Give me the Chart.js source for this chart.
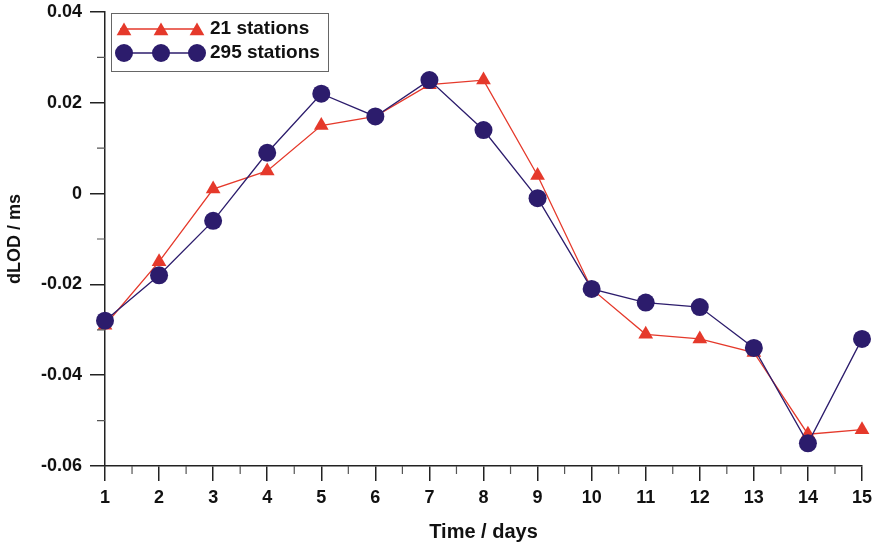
<!DOCTYPE html>
<html>
<head>
<meta charset="utf-8">
<script src="https://cdn.jsdelivr.net/npm/chart.js@4/dist/chart.umd.min.js"></script>
<style>
  html, body { margin: 0; padding: 0; background: #fff; }
  #wrap { width: 876px; height: 549px; }
</style>
</head>
<body>
<div id="wrap"><canvas id="chart"></canvas></div>
<script>
  // days 1..15
  const days = [1, 2, 3, 4, 5, 6, 7, 8, 9, 10, 11, 12, 13, 14, 15];
  const st21 = [-0.029, -0.015, 0.001, 0.005, 0.015, 0.017, 0.024, 0.025, 0.004, -0.021, -0.031, -0.032, -0.035, -0.053, -0.052];
  const st295 = [-0.028, -0.018, -0.006, 0.009, 0.022, 0.017, 0.025, 0.014, -0.001, -0.021, -0.024, -0.025, -0.034, -0.055, -0.032];
  const labels = ["21 stations", "295 stations"];

  const red = "#e5392b";
  const navy = "#2c1c6c";
  const font = "'Liberation Sans', Arial, sans-serif";

  // minor ticks + legend with three markers per line
  const extras = {
    id: "extras",
    afterDraw(chart) {
      const ctx = chart.ctx;
      const xs = chart.scales.x, ys = chart.scales.y;
      ctx.save();
      ctx.strokeStyle = "#555";
      ctx.lineWidth = 1.2;
      ctx.beginPath();
      for (let v = 1.5; v < 15; v += 1) {
        const px = xs.getPixelForValue(v);
        ctx.moveTo(px, xs.top);
        ctx.lineTo(px, xs.top + 8);
      }
      for (let v = -0.05; v < 0.04; v += 0.02) {
        const py = ys.getPixelForValue(v);
        ctx.moveTo(ys.right, py);
        ctx.lineTo(ys.right - 8, py);
      }
      ctx.stroke();

      // legend box
      ctx.strokeStyle = "#666";
      ctx.lineWidth = 1;
      ctx.strokeRect(111.5, 13.5, 217, 58);
      chart.data.datasets.forEach((ds, i) => {
        const y = 29 + i * 24;
        ctx.strokeStyle = ds.borderColor;
        ctx.lineWidth = 1.3;
        ctx.beginPath();
        ctx.moveTo(120, y);
        ctx.lineTo(198, y);
        ctx.stroke();
        ctx.fillStyle = ds.backgroundColor;
        [124, 161, 197].forEach(px => {
          Chart.helpers.drawPoint(ctx, { pointStyle: ds.pointStyle, radius: ds.pointRadius, rotation: 0, borderWidth: 0 }, px, ds.pointStyle === "triangle" ? y + 2 : y);
        });
        ctx.fillStyle = "#111";
        ctx.font = "bold 19px " + font;
        ctx.textBaseline = "middle";
        ctx.textAlign = "left";
        ctx.fillText(ds.label, 210, y);
      });
      ctx.restore();
    }
  };

  new Chart(document.getElementById("chart"), {
    type: "line",
    data: {
      datasets: [
        {
          label: labels[0],
          data: days.map((d, i) => ({ x: d, y: st21[i] })),
          borderColor: red,
          backgroundColor: red,
          borderWidth: 1.3,
          pointStyle: "triangle",
          pointRadius: 8.5,
          pointBorderWidth: 0,
          order: 1,
          clip: false
        },
        {
          label: labels[1],
          data: days.map((d, i) => ({ x: d, y: st295[i] })),
          borderColor: navy,
          backgroundColor: navy,
          borderWidth: 1.3,
          pointStyle: "circle",
          pointRadius: 9,
          pointBorderWidth: 0,
          order: 0,
          clip: false
        }
      ]
    },
    options: {
      responsive: true,
      maintainAspectRatio: false,
      animation: false,
      layout: { padding: { top: 12, right: 14 } },
      plugins: { legend: { display: false }, tooltip: { enabled: false } },
      scales: {
        x: {
          type: "linear",
          min: 1,
          max: 15,
          afterFit: s => { s.height = 83; s.paddingLeft = 0; s.paddingRight = 0; },
          border: { color: "#222", width: 1.5 },
          grid: { drawOnChartArea: false, tickLength: 15, color: "#222", lineWidth: 1.5 },
          ticks: { stepSize: 1, padding: 6, color: "#111", font: { family: font, size: 18, weight: "bold" } },
          title: { display: true, text: "Time / days", color: "#111", padding: { top: 0, bottom: 5 }, font: { family: font, size: 20, weight: "bold" } }
        },
        y: {
          min: -0.06,
          max: 0.04,
          afterFit: s => { s.width = 105; s.paddingTop = 0; s.paddingBottom = 0; },
          border: { color: "#222", width: 1.5 },
          grid: { drawOnChartArea: false, tickLength: 15, color: "#222", lineWidth: 1.5 },
          ticks: {
            stepSize: 0.02,
            padding: 8,
            color: "#111",
            font: { family: font, size: 18, weight: "bold" },
            callback: v => Math.abs(v) < 1e-9 ? "0" : v.toFixed(2)
          },
          title: { display: true, text: "dLOD / ms", color: "#111", padding: { top: 4, bottom: 0 }, font: { family: font, size: 18, weight: "bold" } }
        }
      }
    },
    plugins: [extras]
  });
</script>
</body>
</html>
